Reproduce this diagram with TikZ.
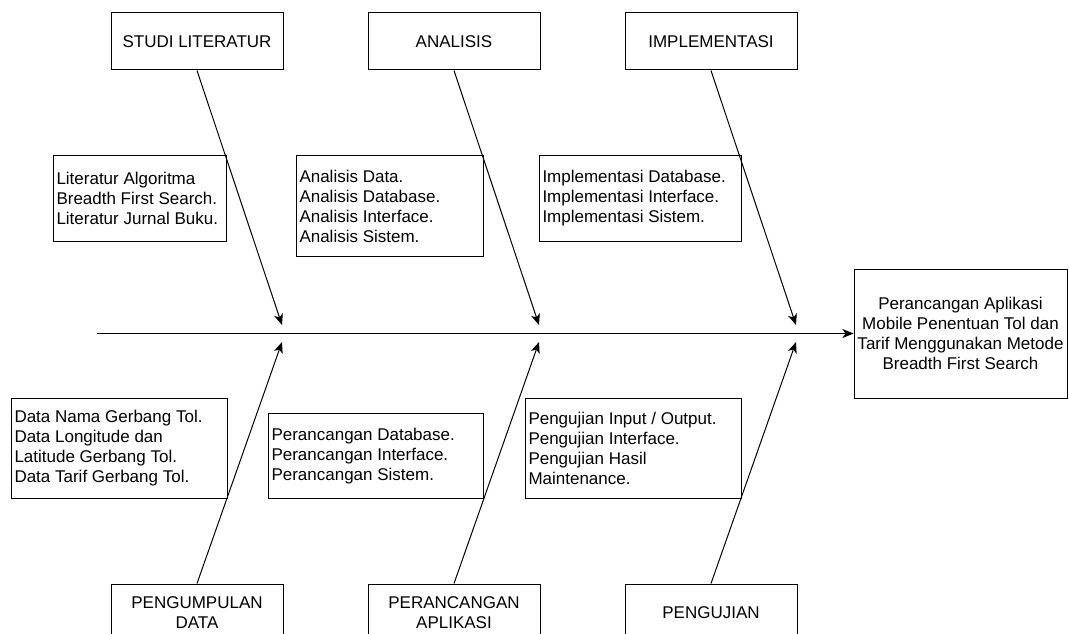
\documentclass[tikz,border=0pt]{standalone}
\usepackage{fontspec}
\setmainfont{Liberation Sans}
\usetikzlibrary{arrows.meta}

\tikzset{
    headbox/.style={draw, line width=1pt, fill=white, minimum width=172pt, minimum height=57pt, inner sep=0pt, align=center, font=\fontsize{17}{20}\selectfont},
    descbox/.style={draw, line width=1pt, fill=white, anchor=north west, inner xsep=3pt, inner ysep=0pt, align=flush left, font=\fontsize{17}{20}\selectfont},
    bone/.style={line width=1pt, -{Stealth[length=11pt, width=9pt, inset=3pt]}}
}

\begin{document}
\begin{tikzpicture}[x=1pt, y=-1pt]
        \clip (0, 0) rectangle (1069, 634);
        % cause boxes
        \node[headbox] (studi) at (197, 41.5) {STUDI LITERATUR};
        \node[headbox] (analisis) at (454, 41.5) {ANALISIS};
        \node[headbox] (implementasi) at (711, 41.5) {IMPLEMENTASI};
        \node[headbox] (pengumpulan) at (197, 612.5) {PENGUMPULAN\\DATA};
        \node[headbox] (perancangan) at (454, 612.5) {PERANCANGAN\\APLIKASI};
        \node[headbox] (pengujian) at (711, 612.5) {PENGUJIAN};
        % effect
        \node[draw, line width=1pt, minimum width=213pt, minimum height=129pt, inner sep=0pt, align=center, font=\fontsize{17}{20}\selectfont] (hasil) at (960.5, 333.5) {Perancangan Aplikasi\\Mobile Penentuan Tol dan\\Tarif Menggunakan Metode\\Breadth First Search};
        % detail boxes
        \node[descbox, text width=167pt, minimum height=86pt] (litdesc) at (53, 155) {Literatur Algoritma\\Breadth First Search.\\Literatur Jurnal Buku.};
        \node[descbox, text width=181pt, minimum height=101pt] (anadesc) at (296, 155) {Analisis Data.\\Analisis Database.\\Analisis Interface.\\Analisis Sistem.};
        \node[descbox, text width=196pt, minimum height=86pt] (impdesc) at (539, 155) {Implementasi Database.\\Implementasi Interface.\\Implementasi Sistem.};
        \node[descbox, text width=210pt, minimum height=100pt] (datadesc) at (11, 398) {Data Nama Gerbang Tol.\\Data Longitude dan\\Latitude Gerbang Tol.\\Data Tarif Gerbang Tol.};
        \node[descbox, text width=209pt, minimum height=85pt] (randesc) at (268, 413) {Perancangan Database.\\Perancangan Interface.\\Perancangan Sistem.};
        \node[descbox, text width=210pt, minimum height=100pt] (ujidesc) at (525, 398) {Pengujian Input / Output.\\Pengujian Interface.\\Pengujian Hasil\\Maintenance.};
        % spine and bones
        \coordinate (ekor) at (97, 333.5);
        \coordinate (t1) at (282, 325);
        \coordinate (t2) at (539, 325);
        \coordinate (t3) at (796, 325);
        \coordinate (b1) at (282, 342);
        \coordinate (b2) at (539, 342);
        \coordinate (b3) at (796, 342);
        \draw[bone] (ekor) -- (hasil.west);
        \draw[bone] (studi.south) -- (t1);
        \draw[bone] (analisis.south) -- (t2);
        \draw[bone] (implementasi.south) -- (t3);
        \draw[bone] (pengumpulan.north) -- (b1);
        \draw[bone] (perancangan.north) -- (b2);
        \draw[bone] (pengujian.north) -- (b3);
\end{tikzpicture}
\end{document}
